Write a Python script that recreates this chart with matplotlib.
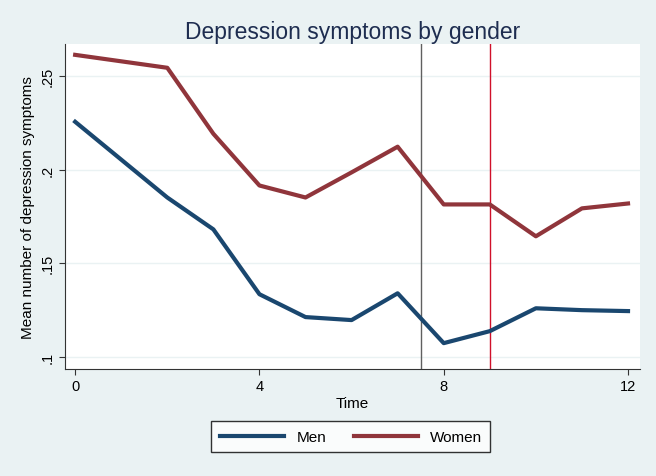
import matplotlib
matplotlib.use("Agg")
import matplotlib.pyplot as plt

plt.rcParams['font.family'] = ['Liberation Sans', 'DejaVu Sans']

# data
time = [0, 2, 3, 4, 5, 6, 7, 8, 9, 10, 11, 12]
men = [0.2255, 0.1851, 0.1681, 0.1335, 0.1213, 0.1197, 0.1340, 0.1074, 0.1138, 0.1260, 0.1250, 0.1245]
women = [0.2612, 0.2543, 0.2191, 0.1915, 0.1851, 0.1985, 0.2122, 0.1814, 0.1814, 0.1644, 0.1793, 0.1819]
yticks = [0.1, 0.15, 0.2, 0.25]
ylabels = ['.1', '.15', '.2', '.25']
xticks = [0, 4, 8, 12]

bg = '#eaf2f3'
navy = '#1a476f'
maroon = '#90353b'

fig = plt.figure(figsize=(6.56, 4.77), dpi=100, facecolor=bg)
ax = fig.add_axes([0.0991, 0.2243, 0.8765, 0.6814])
ax.set_facecolor('white')

for y in yticks:
    ax.axhline(y, color=bg, lw=1, zorder=0)

ax.plot(time, men, color=navy, lw=3, label='Men', zorder=3)
ax.plot(time, women, color=maroon, lw=3, label='Women', zorder=3)
ax.axvline(7.5, color='#606060', lw=1, zorder=2)
ax.axvline(9, color='#d0102a', lw=1, zorder=2)

ax.set_xlim(-0.22, 12.26)
ax.set_ylim(0.0936, 0.267)
ax.set_xticks(xticks)
ax.set_yticks(yticks)
ax.set_yticklabels(ylabels, rotation=90, va='center')
ax.tick_params(labelsize=10.5, length=4, color='#333333')

for s in ['top', 'right']:
    ax.spines[s].set_visible(False)
for s in ['left', 'bottom']:
    ax.spines[s].set_color('#333333')

ax.set_xlabel('Time', fontsize=11, labelpad=2)
ax.set_ylabel('Mean number of depression symptoms', fontsize=11, labelpad=4)
ax.set_title('Depression symptoms by gender', fontsize=16.5, color='#1e2d50', pad=4)

leg = fig.legend(loc='center', bbox_to_anchor=(0.535, 0.082), ncol=2, fontsize=11,
                 frameon=True, fancybox=False, edgecolor='black', handlelength=4.2,
                 columnspacing=1.8, borderpad=0.55, handletextpad=0.8)
leg.get_frame().set_linewidth(1)

fig.savefig('out.png', dpi=100, facecolor=bg)
